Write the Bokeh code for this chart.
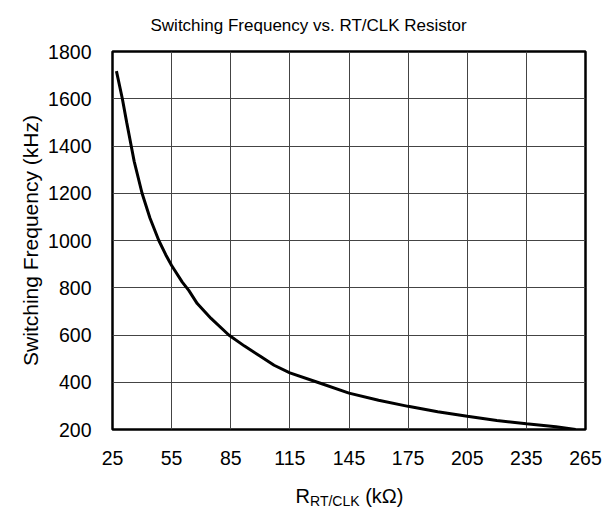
from bokeh.plotting import figure
from bokeh.models import FixedTicker, Range1d, Div
from bokeh.layouts import column
from bokeh.embed import file_html
from bokeh.resources import INLINE

# Data
r_kohm = [27, 30, 32.2, 34.5, 36, 40, 44, 48.5, 52, 55, 60.4, 63.7, 68, 75, 84, 92,
          100, 107, 115, 129, 145, 160, 175, 190, 205, 220, 235, 250, 260]
f_khz = [1717, 1600, 1500, 1400, 1335, 1200, 1095, 1000, 940, 894, 824, 789, 733, 670,
         600, 553, 510, 472, 440, 400, 354, 324, 298, 275, 256, 238, 224, 212, 200]

x_ticks = [25, 55, 85, 115, 145, 175, 205, 235, 265]
y_ticks = [200, 400, 600, 800, 1000, 1200, 1400, 1600, 1800]

title_text = "Switching Frequency vs. RT/CLK Resistor"
y_label = "Switching Frequency (kHz)"
x_label_main = "R"
x_label_sub = "RT/CLK"
x_label_unit = "(kΩ)"

FONT = "Liberation Sans"

p = figure(width=606, height=474, output_backend="svg", toolbar_location=None,
           x_range=Range1d(x_ticks[0], x_ticks[-1]),
           y_range=Range1d(y_ticks[0], y_ticks[-1]),
           title=title_text)
p.min_border_left = 112
p.min_border_right = 21
p.min_border_top = 47
p.min_border_bottom = 45

p.title.align = "left"
p.title.vertical_align = "top"
p.title.offset = 38
p.title.standoff = 30
p.title.padding = 0
p.title.text_font = FONT
p.title.text_font_size = "17px"
p.title.text_font_style = "normal"
p.title.text_color = "black"

p.outline_line_color = "black"
p.outline_line_width = 2.5

for ax in (p.xaxis[0], p.yaxis[0]):
    ax.axis_line_color = None
    ax.major_tick_line_color = None
    ax.minor_tick_line_color = None
    ax.major_label_text_font = FONT
    ax.major_label_text_font_size = "19.5px"
    ax.major_label_text_color = "black"
    ax.axis_label_text_font = FONT
    ax.axis_label_text_font_size = "21px"
    ax.axis_label_text_font_style = "normal"
    ax.axis_label_text_color = "black"

p.xaxis.ticker = FixedTicker(ticks=x_ticks)
p.yaxis.ticker = FixedTicker(ticks=y_ticks)
p.xaxis.major_label_standoff = 15
p.yaxis.major_label_standoff = 15
p.yaxis.axis_label = y_label
p.yaxis.axis_label_standoff = 3

p.grid.grid_line_color = "#444444"
p.grid.grid_line_width = 1
p.grid.grid_line_alpha = 1

p.line(r_kohm, f_khz, line_color="black", line_width=3)

xlab = Div(
    width=606, height=36,
    text=(f'<div style="width:473px;margin-left:108px;text-align:center;'
          f'font-family:\'{FONT}\';font-size:20px;line-height:20px;'
          f'padding-top:7px;color:black;white-space:nowrap">'
          f'{x_label_main}<span style="font-size:14px;vertical-align:-3px">'
          f'{x_label_sub}</span> {x_label_unit}</div>'))

layout = column(p, xlab, spacing=0)

open("out.html", "w").write(file_html(layout, INLINE))
